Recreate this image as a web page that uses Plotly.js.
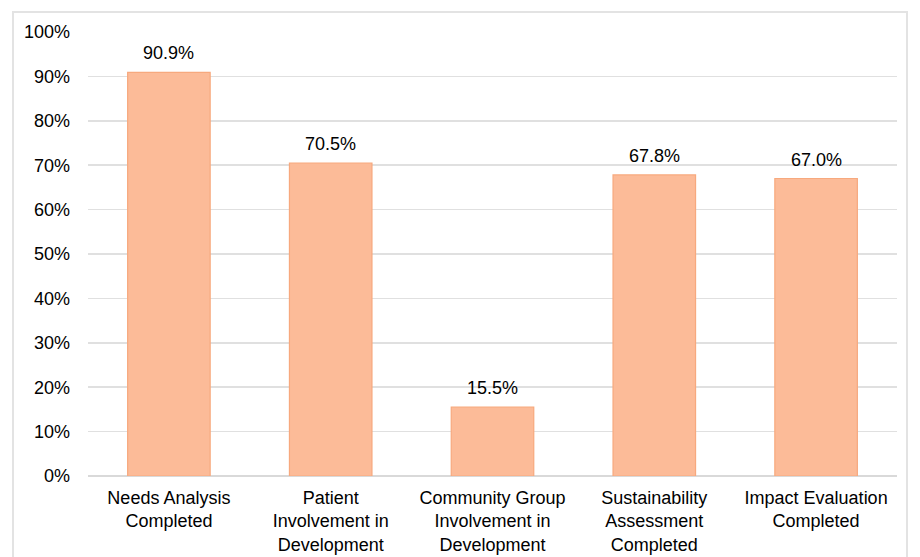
<!DOCTYPE html>
<html>
<head>
<meta charset="utf-8">
<script src="https://cdn.plot.ly/plotly-3.0.1.min.js"></script>
<style>
  html, body { margin: 0; padding: 0; background: #ffffff; }
  #frame { position: absolute; left: 12px; top: 11px; width: 896px; height: 600px; border: 2px solid #e3e3e3; box-sizing: border-box; }
  #chart { position: absolute; left: 0; top: 0; width: 920px; height: 557px; }
</style>
</head>
<body>
<div id="frame"></div>
<div id="chart"></div>
<script>
const categories = [
  "Needs Analysis<br>Completed",
  "Patient<br>Involvement in<br>Development",
  "Community Group<br>Involvement in<br>Development",
  "Sustainability<br>Assessment<br>Completed",
  "Impact Evaluation<br>Completed"
];
const values = [90.9, 70.5, 15.5, 67.8, 67.0];
const valueLabels = values.map(v => v.toFixed(1) + "%");
const yTickVals = [0, 10, 20, 30, 40, 50, 60, 70, 80, 90, 100];
const yTickText = yTickVals.map(v => v + "%");

const font = { family: "Liberation Sans, Arial, sans-serif", size: 18, color: "#000000" };

const trace = {
  type: "bar",
  x: categories,
  y: values,
  marker: { color: "#fcbb98", line: { color: "#f7a97e", width: 1.2 } },
  hoverinfo: "skip"
};

const annotations = categories.map((c, i) => ({
  x: c, y: values[i], xref: "x", yref: "y",
  text: valueLabels[i], showarrow: false,
  yanchor: "bottom", yshift: 7,
  font: font
}));

const layout = {
  width: 920, height: 557,
  margin: { l: 88, r: 23, t: 32, b: 81 },
  paper_bgcolor: "rgba(0,0,0,0)",
  plot_bgcolor: "rgba(0,0,0,0)",
  showlegend: false,
  bargap: 0.49,
  font: font,
  xaxis: {
    type: "category",
    showgrid: false, zeroline: false, showline: false,
    ticks: "", tickfont: font, ticklabelstandoff: 9
  },
  yaxis: {
    range: [0, 100], tickvals: yTickVals, ticktext: yTickText,
    showgrid: true, gridcolor: "#e0e0e0", gridwidth: 1.5,
    zeroline: true, zerolinecolor: "#d9d9d9", zerolinewidth: 2,
    showline: false, ticks: "", tickfont: font, ticklabelstandoff: 17,
    fixedrange: true
  },
  annotations: annotations
};

Plotly.newPlot("chart", [trace], layout, { displayModeBar: false, staticPlot: true });
</script>
</body>
</html>
